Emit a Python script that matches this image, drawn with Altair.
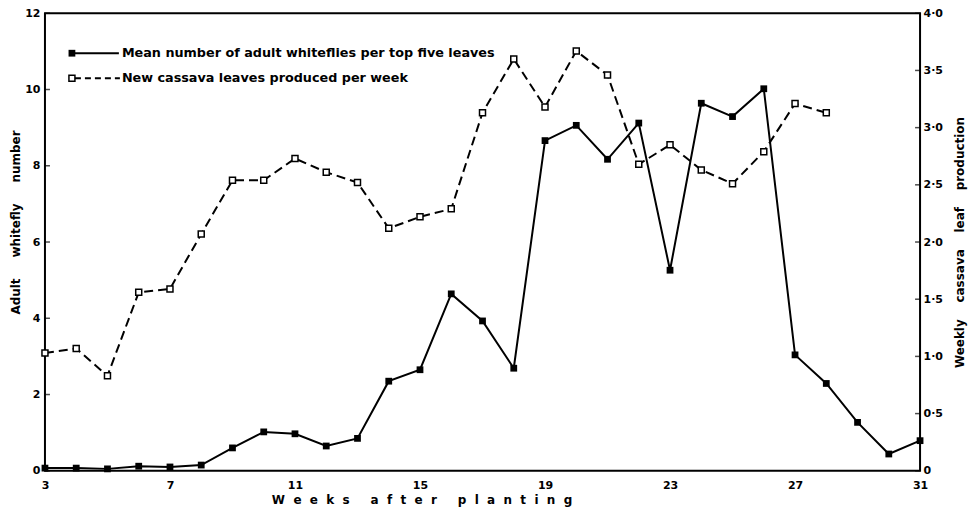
import altair as alt
import pandas as pd

# ---- data ----
weeks_fly = list(range(3, 32))
whitefly = [0.07, 0.07, 0.05, 0.12, 0.10, 0.15, 0.60, 1.02, 0.97, 0.65,
            0.85, 2.35, 2.65, 4.64, 3.93, 2.69, 8.66, 9.06, 8.17, 9.12,
            5.26, 9.64, 9.29, 10.02, 3.04, 2.29, 1.27, 0.44, 0.79]
weeks_leaf = list(range(3, 29))
leaves = [1.03, 1.07, 0.83, 1.56, 1.59, 2.07, 2.54, 2.54, 2.73, 2.61,
          2.52, 2.12, 2.22, 2.29, 3.13, 3.60, 3.18, 3.67, 3.46, 2.68,
          2.85, 2.63, 2.51, 2.79, 3.21, 3.13]
x_ticks = [3, 7, 11, 15, 19, 23, 27, 31]
left_ticks = [0, 2, 4, 6, 8, 10, 12]
right_ticks = [0, 0.5, 1.0, 1.5, 2.0, 2.5, 3.0, 3.5, 4.0]
legend_labels = ["Mean number of adult whiteflies per top five leaves",
                 "New cassava leaves produced per week"]

SP = "\u00a0"
def spaced(words, inner, outer):
    return (SP * outer).join((SP * inner).join(list(w)) for w in words)

x_title = spaced(["Weeks", "after", "planting"], 2, 5)
left_title = (SP * 5).join(["Adult", "whitefly", "number"])
right_title = (SP * 4).join(["Weekly", "cassava", "leaf", "production"])

FONT = "DejaVu Sans"
W, H = 876, 458

fly_df = pd.DataFrame({"week": weeks_fly, "value": whitefly})
leaf_df = pd.DataFrame({"week": weeks_leaf, "value": leaves})
one = pd.DataFrame({"k": [0]})

xscale = alt.Scale(domain=[3, 31], nice=False, zero=False)
xaxis = alt.Axis(values=x_ticks, title=x_title, ticks=False, domain=False,
                 grid=False, labelPadding=9, titlePadding=4, titleX=377,
                 labelFlush=False)
lscale = alt.Scale(domain=[0, 12], nice=False)
rscale = alt.Scale(domain=[0, 4], nice=False)
X = alt.X("week:Q", scale=xscale, axis=xaxis)

fly_line = alt.Chart(fly_df).mark_line(color="black", strokeWidth=2).encode(
    x=X,
    y=alt.Y("value:Q", scale=lscale,
            axis=alt.Axis(values=left_ticks, orient="left", title=left_title,
                          ticks=False, domain=False, grid=False,
                          labelPadding=5, titlePadding=2, titleY=209)))
fly_pts = alt.Chart(fly_df).mark_square(size=46, color="black", opacity=1).encode(
    x=X, y=alt.Y("value:Q", scale=lscale, axis=None))
lticks = alt.Chart(pd.DataFrame({"v": left_ticks})).mark_tick(
    orient="horizontal", size=5, thickness=1.5, color="black").encode(
    y=alt.Y("v:Q", scale=lscale, axis=None), x=alt.value(2.5))

leaf_line = alt.Chart(leaf_df).mark_line(color="black", strokeWidth=2,
                                         strokeDash=[9, 5]).encode(
    x=X,
    y=alt.Y("value:Q", scale=rscale,
            axis=alt.Axis(values=right_ticks, orient="right", title=right_title,
                          labelExpr="datum.value == 0 ? '0' : replace(format(datum.value, '.1f'), '.', '\u00b7')",
                          ticks=False, domain=False, grid=False,
                          labelPadding=3, titlePadding=12, titleAngle=270,
                          titleBaseline="top")))
leaf_pts = alt.Chart(leaf_df).mark_square(size=36, fill="white", stroke="black",
                                          strokeWidth=1.5, filled=True, opacity=1).encode(
    x=X, y=alt.Y("value:Q", scale=rscale, axis=None))
rticks = alt.Chart(pd.DataFrame({"v": right_ticks})).mark_tick(
    orient="horizontal", size=5, thickness=1.5, color="black").encode(
    y=alt.Y("v:Q", scale=rscale, axis=None), x=alt.value(W - 2.5))

leg_rule1 = alt.Chart(one).mark_rule(color="black", strokeWidth=2).encode(
    x=alt.value(27), x2=alt.value(74), y=alt.value(40))
leg_pt1 = alt.Chart(one).mark_square(size=46, color="black", opacity=1).encode(
    x=alt.value(27), y=alt.value(40))
leg_txt1 = alt.Chart(one).mark_text(align="left", baseline="middle", font=FONT,
                                    fontSize=12.8, fontWeight="bold", color="black").encode(
    x=alt.value(77), y=alt.value(40), text=alt.value(legend_labels[0]))
leg_rule2 = alt.Chart(one).mark_rule(color="black", strokeWidth=2, strokeDash=[6, 4]).encode(
    x=alt.value(30), x2=alt.value(75), y=alt.value(65))
leg_pt2 = alt.Chart(one).mark_square(size=36, fill="white", stroke="black",
                                     strokeWidth=1.5, filled=True, opacity=1).encode(
    x=alt.value(27), y=alt.value(65))
leg_txt2 = alt.Chart(one).mark_text(align="left", baseline="middle", font=FONT,
                                    fontSize=12.8, fontWeight="bold", color="black").encode(
    x=alt.value(77), y=alt.value(65), text=alt.value(legend_labels[1]))

chart = alt.layer(
    fly_line, leaf_line, fly_pts, lticks, leaf_pts, rticks,
    leg_rule1, leg_pt1, leg_txt1, leg_rule2, leg_pt2, leg_txt2
).resolve_scale(y="independent").properties(
    width=W, height=H,
    autosize=alt.AutoSizeParams(type="none"),
    padding={"left": 37, "top": 5, "right": 50, "bottom": 40},
    background="white"
).configure_view(stroke="black", strokeWidth=2).configure_axis(
    labelFont=FONT, labelFontSize=11, labelFontWeight="bold", labelColor="black",
    titleFont=FONT, titleFontSize=12, titleFontWeight="bold", titleColor="black")

chart.save("out.html", embed_options={"renderer": "svg", "actions": False})
